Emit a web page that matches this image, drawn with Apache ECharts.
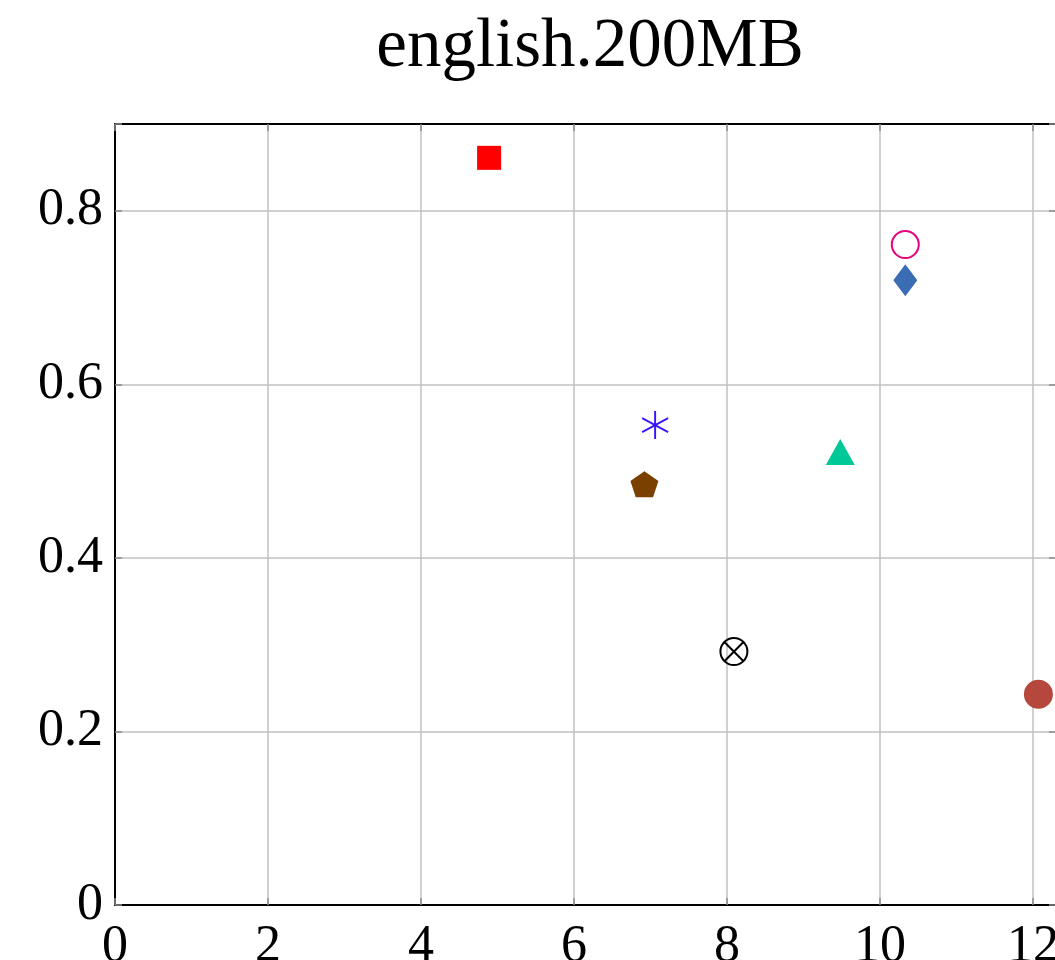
<!DOCTYPE html>
<html>
<head>
<meta charset="utf-8">
<script src="https://cdn.jsdelivr.net/npm/echarts@6/dist/echarts.min.js"></script>
<style>
  html, body { margin: 0; padding: 0; background: #fff; }
  #chart { width: 1055px; height: 960px; }
</style>
</head>
<body>
<div id="chart"></div>
<script>
// Each method is one point: [time, ratio]
const methodNames = ['sq', 'ring', 'diamond', 'star', 'pentagon', 'triangle', 'otimes', 'dot'];
const xValues = [4.89, 10.33, 10.33, 7.06, 6.92, 9.48, 8.09, 12.07];
const yValues = [0.861, 0.761, 0.720, 0.553, 0.485, 0.522, 0.292, 0.243];
const xTicks = [0, 2, 4, 6, 8, 10, 12];
const yTicks = [0, 0.2, 0.4, 0.6, 0.8];

const FONT = '"Liberation Serif", "DejaVu Serif", serif';

const PENTAGON = 'path://M50,0 L97.6,34.5 L79.4,90.5 L20.6,90.5 L2.4,34.5 Z';
const ASTERISK = 'path://M50,0 L50,100 M6.7,25 L93.3,75 M6.7,75 L93.3,25';
const OTIMES = 'path://M50,2 A48,48 0 1,1 49.99,2 Z M16,16 L84,84 M16,84 L84,16';

const styles = [
  { symbol: 'rect', size: 24, item: { color: '#ff0000' } },
  { symbol: 'circle', size: 27, item: { color: '#ffffff', borderColor: '#e6007e', borderWidth: 2 } },
  { symbol: 'diamond', size: [24, 32], item: { color: '#3a6db4' } },
  { symbol: ASTERISK, size: [26, 28], item: { color: 'none', borderColor: '#3a14ff', borderWidth: 2 } },
  { symbol: PENTAGON, size: [28, 26], item: { color: '#7a4000' } },
  { symbol: 'triangle', size: [29, 26], item: { color: '#00c896' } },
  { symbol: OTIMES, size: 27, item: { color: 'none', borderColor: '#000000', borderWidth: 2 } },
  { symbol: 'circle', size: 29, item: { color: '#b5473d' } }
];

const series = methodNames.map((name, i) => ({
  name: name,
  type: 'scatter',
  data: [[xValues[i], yValues[i]]],
  symbol: styles[i].symbol,
  symbolSize: styles[i].size,
  itemStyle: Object.assign({ opacity: 1 }, styles[i].item),
  emphasis: { disabled: true },
  z: 5
}));

const frameLine = { show: true, onZero: false, lineStyle: { color: '#000', width: 2 } };
const tickStyle = { show: true, inside: true, length: 7, lineStyle: { color: '#8a8a8a', width: 1.5 } };
const gridLine = { show: true, lineStyle: { color: '#c0c0c0', width: 1.5 } };
const labelFont = { fontFamily: FONT, fontSize: 52, color: '#000' };

const xLabel = v => (xTicks.includes(Math.round(v * 1000) / 1000) ? String(v) : '');
const yLabel = v => {
  const r = Math.round(v * 1000) / 1000;
  return yTicks.includes(r) ? String(r) : '';
};

const chart = echarts.init(document.getElementById('chart'), null, { renderer: 'canvas' });
chart.setOption({
  animation: false,
  backgroundColor: '#ffffff',
  title: {
    text: 'english.200MB',
    left: 585,
    textAlign: 'center',
    top: 8,
    textStyle: { fontFamily: FONT, fontSize: 69, fontWeight: 'normal', color: '#000' }
  },
  grid: {
    left: 115, right: -1, top: 124, bottom: 55,
    outerBoundsMode: 'none',
    containLabel: false,
    show: false
  },
  xAxis: [
    {
      type: 'value', min: 0, max: 12.3, interval: 2,
      axisLine: frameLine,
      axisTick: tickStyle,
      splitLine: gridLine,
      axisLabel: Object.assign({ margin: 16, formatter: xLabel, hideOverlap: false }, labelFont)
    },
    {
      type: 'value', position: 'top', min: 0, max: 12.3, interval: 2,
      axisLine: frameLine, axisTick: tickStyle,
      splitLine: { show: false }, axisLabel: { show: false }
    }
  ],
  yAxis: [
    {
      type: 'value', min: 0, max: 0.9, interval: 0.2,
      axisLine: frameLine,
      axisTick: tickStyle,
      splitLine: gridLine,
      axisLabel: Object.assign({ margin: 12, formatter: yLabel, hideOverlap: false }, labelFont)
    },
    {
      type: 'value', position: 'right', min: 0, max: 0.9, interval: 0.2,
      axisLine: frameLine, axisTick: tickStyle,
      splitLine: { show: false }, axisLabel: { show: false }
    }
  ],
  series: series
});
</script>
</body>
</html>
